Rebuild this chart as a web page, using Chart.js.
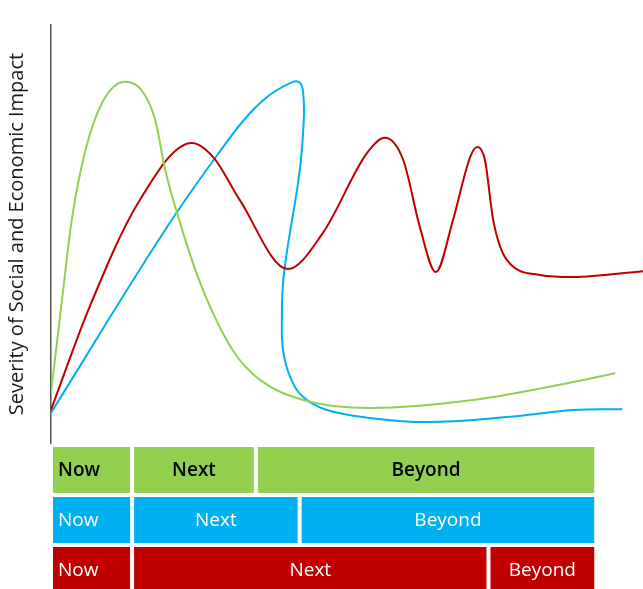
<!DOCTYPE html>
<html>
<head>
<meta charset="utf-8">
<script src="https://cdn.jsdelivr.net/npm/chart.js@4"></script>
<style>
  html, body { margin: 0; padding: 0; background: #fff; overflow: hidden; }
  #wrap { position: relative; width: 643px; height: 589px; overflow: hidden; }
  #lines { position: absolute; left: 0; top: 0; }
  #phases { position: absolute; left: 0; top: 445px; }
</style>
</head>
<body>
<div id="wrap">
  <canvas id="lines" width="643" height="445"></canvas>
  <canvas id="phases" width="643" height="150"></canvas>
</div>
<script>
// Curves: time (0-100) and severity (0-100)
const greenTime = [0, 1.8, 3.5, 5.7, 8.6, 12.5, 15.3, 17.6, 19.3, 21.3, 25.2, 30.7, 35.3, 42.6, 53.9, 71.3, 88.2, 95.3];
const greenSev  = [12.0, 33.5, 53.3, 69.4, 81.3, 86.4, 84.4, 77.3, 65.3, 55.0, 38.3, 22.2, 15.1, 10.3, 8.4, 10.3, 14.6, 16.7];

const blueTime = [0, 19.3, 30.2, 33.6, 37.0, 40.9, 42.1, 42.6, 42.7, 42.0, 39.9, 39.2, 39.0, 39.2, 40.4, 42.6, 46.6, 53.9, 63.5, 77.0, 88.2, 96.5];
const blueSev  = [7.2, 51.0, 73.0, 78.9, 83.3, 86.4, 86.1, 83.7, 77.3, 65.0, 46.2, 38.3, 30.1, 22.2, 15.8, 11.0, 7.9, 6.0, 5.0, 6.2, 7.9, 8.1];

const redTime = [0, 6.3, 14.7, 23.8, 27.4, 31.9, 40.0, 45.9, 53.4, 56.4, 59.5, 62.3, 65.0, 67.9, 70.8, 72.0, 73.3, 74.7, 77.0, 82.6, 88.2, 100];
const redSev  = [7.9, 31.8, 57.4, 71.8, 68.4, 58.1, 41.6, 50.2, 69.4, 73.0, 67.7, 51.7, 40.9, 53.3, 68.4, 70.8, 67.7, 53.3, 43.8, 40.2, 39.7, 41.1];

// Phase rows (one per curve), phase boundaries on the same time axis
const rows = ["green", "blue", "red"];
const phases = ["Now", "Next", "Beyond"];
const nowEnd    = [13.7, 13.7, 13.7];
const nextEnd   = [34.6, 42.0, 73.9];
const beyondEnd = [92.1, 92.1, 92.1];

const GREEN = "#92d050";
const BLUE = "#00b0f0";
const RED = "#c00000";
const rowColors = [GREEN, BLUE, RED];

function toPoints(xs, ys) {
    return xs.map((x, i) => ({ x: x, y: ys[i] }));
}

function curve(xs, ys, color, mode) {
    return {
        data: toPoints(xs, ys),
        borderColor: color,
        borderWidth: 2,
        pointRadius: 0,
        tension: 0.4,
        cubicInterpolationMode: mode,
        fill: false,
    };
}

new Chart(document.getElementById("lines"), {
    type: "line",
    data: {
        datasets: [
            curve(greenTime, greenSev, GREEN, "monotone"),
            curve(redTime, redSev, RED, "monotone"),
            curve(blueTime, blueSev, BLUE, "default"), // loops back, so no monotone here
        ],
    },
    options: {
        responsive: false,
        animation: false,
        layout: { padding: { top: 25, bottom: 2, right: 0 } },
        plugins: { legend: { display: false }, tooltip: { enabled: false } },
        scales: {
            x: { type: "linear", min: 0, max: 100, display: false },
            y: {
                min: 0,
                max: 100,
                ticks: { display: false },
                grid: { display: false },
                border: { display: true, color: "#555", width: 1.5 },
                title: {
                    display: true,
                    text: "Severity of Social and Economic Impact",
                    color: "#1a1a1a",
                    font: { family: "Open Sans", size: 20 },
                    padding: { top: 5, bottom: 0 },
                },
                afterFit: (scale) => { scale.width = 51; },
            },
        },
    },
});

// Labels inside the phase bars
const phaseLabels = {
    id: "phaseLabels",
    afterDatasetsDraw(chart) {
        const ctx = chart.ctx;
        ctx.save();
        ctx.textBaseline = "middle";
        chart.data.datasets.forEach((ds, di) => {
            chart.getDatasetMeta(di).data.forEach((bar, ri) => {
                const green = ri === 0;
                ctx.fillStyle = green ? "#000" : "#fff";
                ctx.font = (green ? "600 " : "") + "19px 'Open Sans'";
                const left = Math.min(bar.x, bar.base);
                if (ds.label === "Now") {
                    ctx.textAlign = "left";
                    ctx.fillText(ds.label, left + 7, bar.y + 1);
                } else {
                    ctx.textAlign = "center";
                    ctx.fillText(ds.label, (bar.x + bar.base) / 2, bar.y + 1);
                }
            });
        });
        ctx.restore();
    },
};

function phase(label, starts, ends) {
    return {
        label: label,
        data: rows.map((r, i) => [starts[i], ends[i]]),
        backgroundColor: rowColors,
        borderColor: "#fff",
        borderWidth: { left: 2, right: 2, top: 0, bottom: 0 },
        borderSkipped: false,
        grouped: false,
        barPercentage: 0.92,
        categoryPercentage: 1,
    };
}

new Chart(document.getElementById("phases"), {
    type: "bar",
    data: {
        labels: rows,
        datasets: [
            phase(phases[0], [0, 0, 0], nowEnd),
            phase(phases[1], nowEnd, nextEnd),
            phase(phases[2], nextEnd, beyondEnd),
        ],
    },
    options: {
        indexAxis: "y",
        responsive: false,
        animation: false,
        layout: { padding: { left: 51, right: 0, top: 0, bottom: 0 } },
        plugins: { legend: { display: false }, tooltip: { enabled: false } },
        scales: {
            x: { type: "linear", min: 0, max: 100, display: false },
            y: { display: false },
        },
    },
    plugins: [phaseLabels],
});
</script>
</body>
</html>
